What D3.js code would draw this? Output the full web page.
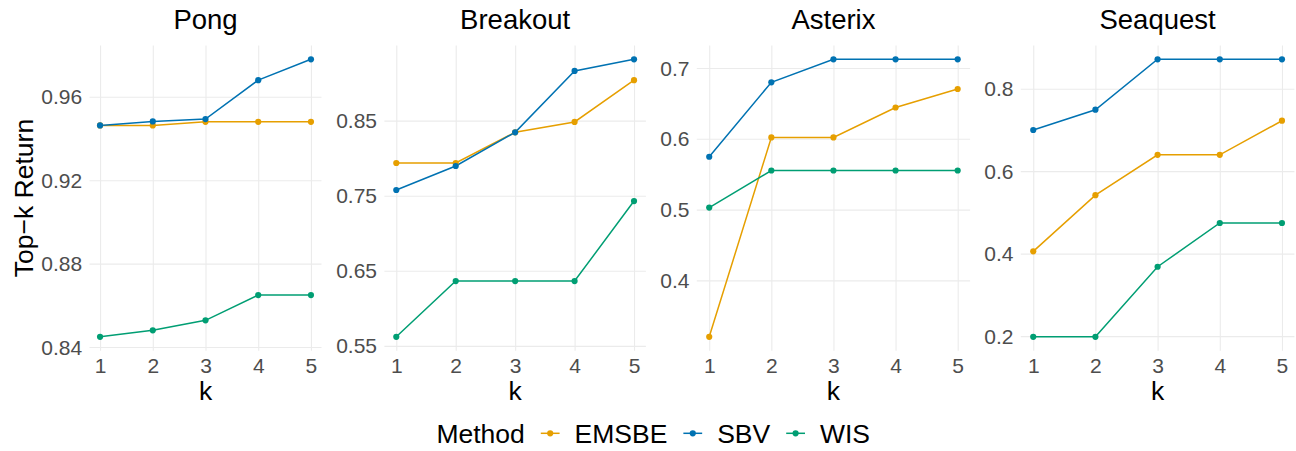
<!DOCTYPE html>
<html>
<head>
<meta charset="utf-8">
<script src="https://cdn.jsdelivr.net/npm/d3@7"></script>
<style>
  html, body { margin: 0; padding: 0; background: #ffffff; }
  svg { display: block; font-family: "Liberation Sans", Arial, Helvetica, sans-serif; }
</style>
</head>
<body>
<svg id="chart" width="1296" height="451"></svg>
<script>
// ---------------- data ----------------
const games = ["Pong", "Breakout", "Asterix", "Seaquest"];
const methods = ["EMSBE", "SBV", "WIS"];
const kValues = [1, 2, 3, 4, 5];

const pongEMSBE = [0.9463, 0.9463, 0.9480, 0.9480, 0.9480];
const pongSBV   = [0.9463, 0.9482, 0.9493, 0.9680, 0.9780];
const pongWIS   = [0.8449, 0.8480, 0.8528, 0.8649, 0.8649];

const breakoutEMSBE = [0.7936, 0.7936, 0.8345, 0.8483, 0.9039];
const breakoutSBV   = [0.7576, 0.7896, 0.8345, 0.9163, 0.9318];
const breakoutWIS   = [0.5620, 0.6363, 0.6363, 0.6363, 0.7429];

const asterixEMSBE = [0.3203, 0.6019, 0.6019, 0.6442, 0.6703];
const asterixSBV   = [0.5746, 0.6798, 0.7123, 0.7123, 0.7123];
const asterixWIS   = [0.5028, 0.5552, 0.5552, 0.5552, 0.5552];

const seaquestEMSBE = [0.4056, 0.5417, 0.6396, 0.6396, 0.7223];
const seaquestSBV   = [0.6998, 0.7490, 0.8713, 0.8713, 0.8713];
const seaquestWIS   = [0.1983, 0.1983, 0.3682, 0.4743, 0.4743];

const pongTicks     = [0.84, 0.88, 0.92, 0.96];
const breakoutTicks = [0.55, 0.65, 0.75, 0.85];
const asterixTicks  = [0.4, 0.5, 0.6, 0.7];
const seaquestTicks = [0.2, 0.4, 0.6, 0.8];

const pongTickLabels     = ["0.84", "0.88", "0.92", "0.96"];
const breakoutTickLabels = ["0.55", "0.65", "0.75", "0.85"];
const asterixTickLabels  = ["0.4", "0.5", "0.6", "0.7"];
const seaquestTickLabels = ["0.2", "0.4", "0.6", "0.8"];

const xTitle = "k";
const yTitle = "Top\u2212k Return";
const legendTitle = "Method";

// ---------------- structures built from arrays ----------------
const seriesByGame = {
  Pong:     { EMSBE: pongEMSBE,     SBV: pongSBV,     WIS: pongWIS },
  Breakout: { EMSBE: breakoutEMSBE, SBV: breakoutSBV, WIS: breakoutWIS },
  Asterix:  { EMSBE: asterixEMSBE,  SBV: asterixSBV,  WIS: asterixWIS },
  Seaquest: { EMSBE: seaquestEMSBE, SBV: seaquestSBV, WIS: seaquestWIS }
};
const ticksByGame = {
  Pong: [pongTicks, pongTickLabels],
  Breakout: [breakoutTicks, breakoutTickLabels],
  Asterix: [asterixTicks, asterixTickLabels],
  Seaquest: [seaquestTicks, seaquestTickLabels]
};

// ---------------- styling / layout ----------------
const colors = { EMSBE: "#E69F00", SBV: "#0072B2", WIS: "#009E73" };
const panelLefts  = [89.5, 384.4, 696.8, 1020.8];
const panelRights = [321.5, 645.9, 970.1, 1294.4];
const panelTop = 45.4, panelBottom = 350.7;
const gridColor = "#EBEBEB";
const tickColor = "#4D4D4D";
const tickFont = 21, titleFont = 27.5, axisTitleFont = 26.5, legendFont = 26.5;

const svg = d3.select("#chart");
svg.append("rect").attr("width", 1296).attr("height", 451).attr("fill", "#ffffff");

games.forEach((game, gi) => {
  const left = panelLefts[gi], right = panelRights[gi];
  const g = svg.append("g");
  const allVals = methods.flatMap(m => seriesByGame[game][m]);
  const lo = d3.min(allVals), hi = d3.max(allVals), span = hi - lo;
  const x = d3.scaleLinear().domain([0.8, 5.2]).range([left, right]);
  const y = d3.scaleLinear().domain([lo - 0.05 * span, hi + 0.05 * span]).range([panelBottom, panelTop]);

  const [tv, tl] = ticksByGame[game];

  // y axis with gridlines
  const yAxis = d3.axisLeft(y)
    .tickValues(tv)
    .tickFormat((d, i) => tl[i])
    .tickSizeInner(-(right - left))
    .tickSizeOuter(0)
    .tickPadding(7.4);
  const ya = g.append("g").attr("transform", `translate(${left},0)`).call(yAxis);
  ya.select(".domain").remove();
  ya.attr("font-family", null).attr("font-size", null);
  ya.selectAll("line").attr("stroke", gridColor).attr("stroke-width", 1.1);
  ya.selectAll("text").attr("fill", tickColor).style("font-size", tickFont + "px").attr("dy", "0.34em");

  // x axis with gridlines
  const xAxis = d3.axisBottom(x)
    .tickValues(kValues)
    .tickFormat(d3.format("d"))
    .tickSizeInner(-(panelBottom - panelTop))
    .tickSizeOuter(0)
    .tickPadding(7.1);
  const xa = g.append("g").attr("transform", `translate(0,${panelBottom})`).call(xAxis);
  xa.select(".domain").remove();
  xa.attr("font-family", null).attr("font-size", null);
  xa.selectAll("line").attr("stroke", gridColor).attr("stroke-width", 1.1);
  xa.selectAll("text").attr("fill", tickColor).style("font-size", tickFont + "px");

  // lines
  const line = d3.line().x((d, i) => x(kValues[i])).y(d => y(d));
  methods.forEach(m => {
    g.append("path")
      .datum(seriesByGame[game][m])
      .attr("d", line)
      .attr("fill", "none")
      .attr("stroke", colors[m])
      .attr("stroke-width", 1.5);
  });
  // points
  methods.forEach(m => {
    g.selectAll(null)
      .data(seriesByGame[game][m])
      .enter().append("circle")
      .attr("cx", (d, i) => x(kValues[i]))
      .attr("cy", d => y(d))
      .attr("r", 3.1)
      .attr("fill", colors[m]);
  });

  // panel title
  g.append("text")
    .attr("x", (left + right) / 2)
    .attr("y", 28.5)
    .attr("text-anchor", "middle")
    .style("font-size", titleFont + "px")
    .attr("fill", "#000000")
    .text(game);

  // x title
  g.append("text")
    .attr("x", (left + right) / 2)
    .attr("y", 400)
    .attr("text-anchor", "middle")
    .style("font-size", axisTitleFont + "px")
    .attr("fill", "#000000")
    .text(xTitle);

  if (gi === 0) {
    g.append("text")
      .attr("transform", `translate(33,${(panelTop + panelBottom) / 2}) rotate(-90)`)
      .attr("text-anchor", "middle")
      .style("font-size", axisTitleFont + "px")
      .attr("fill", "#000000")
      .text(yTitle);
  }
});

// ---------------- legend ----------------
const legend = svg.append("g");
const legendBaseline = 442.7, keyY = 433.3;
let cx = 436.4;
const lt = legend.append("text")
  .attr("x", cx).attr("y", legendBaseline)
  .style("font-size", legendFont + "px").attr("fill", "#000000")
  .text(legendTitle);
cx += lt.node().getComputedTextLength() + 16;
methods.forEach(m => {
  legend.append("line")
    .attr("x1", cx).attr("x2", cx + 18.8)
    .attr("y1", keyY).attr("y2", keyY)
    .attr("stroke", colors[m]).attr("stroke-width", 1.5);
  legend.append("circle")
    .attr("cx", cx + 9.4).attr("cy", keyY).attr("r", 3.1).attr("fill", colors[m]);
  cx += 18.8 + 15;
  const t = legend.append("text")
    .attr("x", cx).attr("y", legendBaseline)
    .style("font-size", legendFont + "px").attr("fill", "#000000")
    .text(m);
  cx += t.node().getComputedTextLength() + 16;
});
</script>
</body>
</html>
